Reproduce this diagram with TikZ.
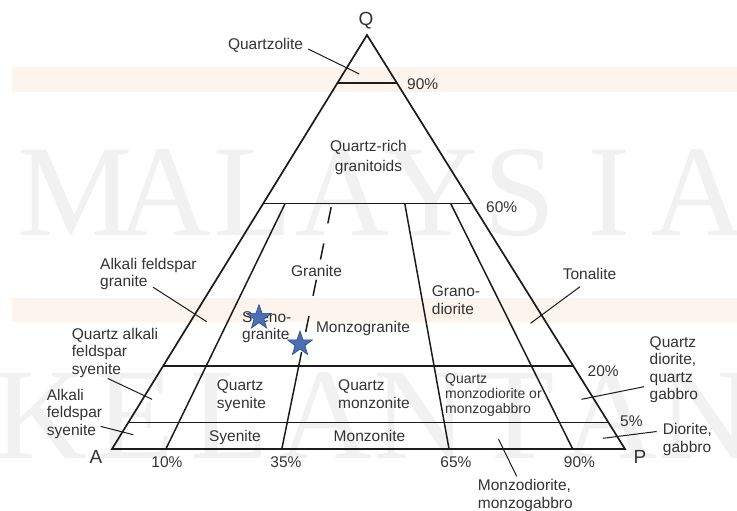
\documentclass[tikz,border=0pt]{standalone}
\usepackage{xcolor}
\usepackage{fontspec}
\setmainfont{Liberation Sans}
\newfontfamily\wmfont{Liberation Serif}
\usepackage{tikz}
\usetikzlibrary{calc, shapes.geometric}

\definecolor{inkgray}{HTML}{333333}
\definecolor{linegray}{HTML}{1C1C1C}
\definecolor{starblue}{HTML}{4A6FB5}
\definecolor{starline}{HTML}{2A4A8C}
\definecolor{bandpeach}{HTML}{FDF4ED}
\definecolor{wmgray}{HTML}{F1F1F1}

\begin{document}
\begin{tikzpicture}[x=1pt, y=-1pt,
    lbl/.style={inner sep=0pt, text=inkgray, font=\fontsize{15.5}{17.5}\selectfont, text height=11pt, text depth=3pt},
    lblm/.style={inner sep=0pt, text=inkgray, font=\fontsize{15.5}{17.5}\selectfont, anchor=west, align=left},
    pct/.style={lbl},
    vtx/.style={inner sep=0pt, text=inkgray, font=\fontsize{19}{22}\selectfont},
    rim/.style={draw=linegray, line width=1.7pt},
    divide/.style={draw=linegray, line width=1.5pt},
    leader/.style={draw=linegray, line width=1pt},
    sample/.style={star, star points=5, star point ratio=2.5, minimum size=26pt, inner sep=0pt, fill=starblue, draw=starline, line width=0.6pt},
    wm/.style={inner sep=0pt, anchor=base, text=wmgray, font=\wmfont\fontsize{130}{130}\selectfont}
]
\useasboundingbox (0,0) rectangle (737,511);

\fill[bandpeach] (12,67) rectangle (737,92);
\fill[bandpeach] (12,298) rectangle (737,322);
\foreach \ch [count=\i from 0] in {M,A,L,A,Y,S,I,A}
    \node[wm] (wmM\i) at (75+89*\i,235) {\ch};
\foreach \ch [count=\i from 0] in {K,E,L,A,N,T,A,N}
    \node[wm] (wmK\i) at (40+95*\i,458) {\ch};

\coordinate (Q) at (367,35);
\coordinate (A) at (112,449);
\coordinate (P) at (625,449);

\foreach \t/\n in {0.116/90, 0.407/60, 0.800/20, 0.936/5} {
    \coordinate (L\n) at ($(Q)!\t!(A)$);
    \coordinate (R\n) at ($(Q)!\t!(P)$);
    \draw[divide] (L\n) -- (R\n);
}

\coordinate (B10) at ($(A)!0.105!(P)$);
\coordinate (T10) at ($(L60)!0.105!(R60)$);
\coordinate (B35) at ($(A)!0.331!(P)$);
\coordinate (T35) at ($(L60)!0.329!(R60)$);
\coordinate (M35) at ($(T35)!0.663!(B35)$);
\coordinate (B65) at ($(A)!0.657!(P)$);
\coordinate (T65) at ($(L60)!0.678!(R60)$);
\coordinate (B90) at ($(A)!0.898!(P)$);
\coordinate (T90) at ($(L60)!0.898!(R60)$);

\draw[divide] (T10) -- (B10);
\draw[divide, dash pattern=on 16.5pt off 20.5pt] ($(T35)!0.015!(B35)$) -- (M35);
\draw[divide] (M35) -- (B35);
\draw[divide] (T65) -- (B65);
\draw[divide] (T90) -- (B90);
\draw[rim] (Q) -- (A) -- (P) -- cycle;

\node[vtx] (qlab) at (366,21) {Q};
\node[vtx] (alab) at (96,457) {A};
\node[vtx] (plab) at (640,457) {P};

\node[lbl] (qzl) at (265.5,46) {Quartzolite};
\node[pct, anchor=west] (p90) at (407,86) {90\%};
\node[lblm, anchor=center, align=center, font=\fontsize{15.5}{20}\selectfont] (qrg) at (368.5,157) {Quartz-rich\\granitoids};
\node[pct, anchor=west] (p60) at (486,208) {60\%};
\node[lbl] (gra) at (316.5,272) {Granite};
\node[lblm] (afg) at (100,274) {Alkali feldspar\\granite};
\node[lblm] (syg) at (242,327) {Syeno-\\granite};
\node[lbl] (mzg) at (363,328.5) {Monzogranite};
\node[lblm] (grd) at (431.7,300) {Grano-\\diorite};
\node[lbl] (ton) at (589.5,275.5) {Tonalite};
\node[lblm] (qafs) at (71.7,352.5) {Quartz alkali\\feldspar\\syenite};
\node[lblm] (afs) at (46.7,413.5) {Alkali\\feldspar\\syenite};
\node[lblm] (qsy) at (216.7,395.5) {Quartz\\syenite};
\node[lblm] (qmz) at (338,394) {Quartz\\monzonite};
\node[lblm, font=\fontsize{14}{15}\selectfont] (qmd) at (445,395) {Quartz\\monzodiorite or\\monzogabbro};
\node[lbl] (sye) at (235,437.3) {Syenite};
\node[lbl] (mzn) at (369.5,437.3) {Monzonite};
\node[pct, anchor=west] (p20) at (587.5,372) {20\%};
\node[pct, anchor=west] (p5) at (620,422.5) {5\%};
\node[lblm] (qdg) at (649.5,369.7) {Quartz\\diorite,\\quartz\\gabbro};
\node[lblm] (dgb) at (662.7,439.5) {Diorite,\\gabbro};
\node[pct] (b10) at (167,463) {10\%};
\node[pct] (b35) at (286,463) {35\%};
\node[pct] (b65) at (456,463) {65\%};
\node[pct] (b90) at (579.5,463) {90\%};
\node[lblm] (mdm) at (477.7,495.5) {Monzodiorite,\\monzogabbro};

\coordinate (qzl-in) at (359.3,74);
\coordinate (afg-in) at (206.7,321.7);
\coordinate (ton-in) at (530.5,323.3);
\coordinate (qafs-in) at (152,399.3);
\coordinate (afs-in) at (133.3,434.7);
\coordinate (mdm-in) at (498.5,439.2);
\coordinate (qdg-in) at (581.5,399.3);
\coordinate (dgb-in) at (603,438.3);
\draw[leader] ([shift={(5,3)}]qzl.east) -- (qzl-in);
\draw[leader] ([shift={(53,-3)}]afg.south west) -- (afg-in);
\draw[leader] ([shift={(-9.5,4)}]ton.south) -- (ton-in);
\draw[leader] ([shift={(36,1)}]qafs.south west) -- (qafs-in);
\draw[leader] ([shift={(54,-12)}]afs.south west) -- (afs-in);
\draw[leader] ([shift={(39,-3)}]mdm.north west) -- (mdm-in);
\draw[leader] ([shift={(-5.5,17)}]qdg.west) -- (qdg-in);
\draw[leader] ([shift={(-6,-8)}]dgb.west) -- (dgb-in);

\node[sample] (s1) at (259,317.5) {};
\node[sample] (s2) at (300,344) {};
\end{tikzpicture}
\end{document}
